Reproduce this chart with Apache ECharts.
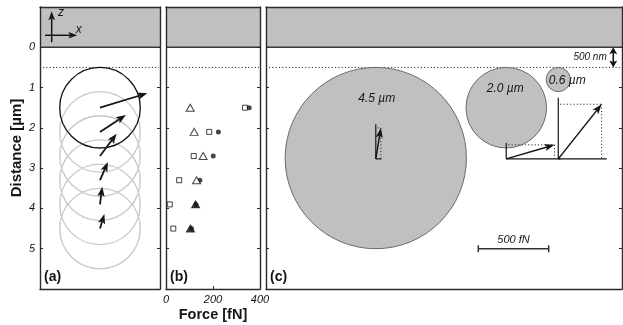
<!DOCTYPE html>
<html><head><meta charset="utf-8">
<script src="https://cdn.jsdelivr.net/npm/echarts@6/dist/echarts.min.js"></script>
<style>html,body{margin:0;padding:0;background:#fff}#c{width:623px;height:325px}</style>
</head><body><div id="c"></div>
<script>
// ---------------- data ----------------
const depthTicks = [0, 1, 2, 3, 4, 5];              // µm
const forceTicks = [0, 200, 400];                   // fN
const beadDepthsA = [1.5, 2.1, 2.7, 3.3, 3.9, 4.5];  // centre depth of the 2.0 µm bead, µm
const forceXA = [336, 184, 118, 56, 16, 31];         // squares: lateral force, fN
const forceZA = [103, 120, 158, 130, 126, 104];      // triangles: axial force, fN
const forceTotalA = [354, 223, 201, 144, 127, 108];  // dots: total force, fN
const beadDiameterA = 2.0;                           // µm
const beadDiametersC = [4.5, 2.0, 0.6];              // µm
const beadLabelsC = ['4.5 µm', '2.0 µm', '0.6 µm'];
const beadCentreXC = [2.725, 5.964, 7.255];          // µm along panel (c)
const beadCentreZC = [2.75, 1.5, 0.8];               // µm depth
const beadForceXC = [36, 343, 308];                  // fN
const beadForceZC = [220, 100, 388];                 // fN
const surfaceGap = 0.5;                              // µm (500 nm)
const scaleBarForce = 500;                           // fN
const panelLabels = ['(a)', '(b)', '(c)'];

// ---------------- layout / style ----------------
const FONT = "'Liberation Sans', Arial, Helvetica, sans-serif";
const INK = '#151515';
const FRAME = '#2b2b2b';
const GT = 7, GH = 282, DMIN = -1, DMAX = 6;
const pxPerUm = GH / (DMAX - DMIN);
const boxes = [{left: 40, width: 120}, {left: 166, width: 94}, {left: 266, width: 356}];
const xMaxA = boxes[0].width / pxPerUm;
const xMaxC = boxes[2].width / pxPerUm;
const umPerFn = 70.4 / pxPerUm / scaleBarForce;
const frameDepthC = 2.77;
const beadLabelOffsetPx = [[1, -59], [-1, -19.5], [9, 1]];
const scaleBarPos = [5.27, 5.0];
const gapArrowX = 8.62;

function arrow(p0, p1, o) {
  const dx = p1[0] - p0[0], dy = p1[1] - p0[1];
  const L = Math.hypot(dx, dy) || 1;
  const ux = dx / L, uy = dy / L, nx = -uy, ny = ux;
  const hl = o.head, hw = o.half, nt = hl * 0.78;
  const base = [p1[0] - ux * hl, p1[1] - uy * hl];
  const nb = [p1[0] - ux * nt, p1[1] - uy * nt];
  const els = [];
  if (!o.noLine) els.push({type: 'line', shape: {x1: p0[0], y1: p0[1], x2: nb[0], y2: nb[1]},
    style: {stroke: o.color, lineWidth: o.width, lineCap: 'butt'}});
  els.push({type: 'polygon', shape: {points: [p1, [base[0] + nx * hw, base[1] + ny * hw], nb, [base[0] - nx * hw, base[1] - ny * hw]]},
    style: {fill: o.color}});
  return els;
}
const dotted = {stroke: '#222', lineWidth: 1, lineDash: [1.1, 2.2]};

const lineStyle = {color: FRAME, width: 1.4};
function xAx(gi, pos, max, opts) {
  return Object.assign({
    gridIndex: gi, type: 'value', position: pos, min: 0, max: max,
    axisLine: {show: true, onZero: false, lineStyle},
    axisTick: {show: false}, axisLabel: {show: false}, splitLine: {show: false}, z: 5
  }, opts || {});
}
function yAx(gi, pos, labels) {
  return {
    gridIndex: gi, type: 'value', position: pos, min: DMIN, max: DMAX, interval: 1, inverse: true,
    axisLine: {show: true, onZero: false, lineStyle},
    axisTick: {show: true, inside: true, length: 3, lineStyle: {color: FRAME, width: 1}},
    axisLabel: {show: labels, margin: 5, fontStyle: 'italic', fontSize: 11, fontFamily: FONT, color: INK,
      formatter: v => depthTicks.indexOf(v) >= 0 ? String(v) : ''},
    splitLine: {show: false}, z: 5
  };
}

const xAxis = [
  xAx(0, 'bottom', xMaxA),
  xAx(1, 'bottom', forceTicks[forceTicks.length - 1], {
    min: forceTicks[0], interval: forceTicks[1] - forceTicks[0],
    axisTick: {show: true, inside: true, length: 3, lineStyle: {color: FRAME, width: 1}},
    axisLabel: {show: true, margin: 5, fontStyle: 'italic', fontSize: 11, fontFamily: FONT, color: INK,
      showMinLabel: true, showMaxLabel: true}
  }),
  xAx(2, 'bottom', xMaxC),
  xAx(0, 'top', xMaxA), xAx(1, 'top', 400), xAx(2, 'top', xMaxC)
];
const yAxis = [yAx(0, 'left', true), yAx(1, 'left', false), yAx(2, 'left', false),
               yAx(0, 'right', false), yAx(1, 'right', false), yAx(2, 'right', false)];

// surface (gray half-space), 500 nm dotted line, panel letter
function renderSurface(params, api) {
  const cs = params.coordSys;
  const gi = api.value(2);
  const y0 = api.coord([0, 0])[1];
  const yd = api.coord([0, surfaceGap])[1];
  const ch = [
    {type: 'rect', shape: {x: cs.x, y: cs.y, width: cs.width, height: y0 - cs.y}, style: {fill: '#c0c0c0'}},
    {type: 'line', shape: {x1: cs.x, y1: y0, x2: cs.x + cs.width, y2: y0}, style: {stroke: '#3a3a3a', lineWidth: 1.6}},
    {type: 'line', shape: {x1: cs.x + 3, y1: yd, x2: cs.x + cs.width - 1, y2: yd}, style: dotted},
    {type: 'text', x: cs.x + 4, y: cs.y + cs.height - 12,
      style: {text: panelLabels[gi], fill: INK, font: 'bold 14px ' + FONT, align: 'left', verticalAlign: 'middle'}}
  ];
  if (gi === 0) {
    const c = (x, z) => api.coord([x, z]);
    ch.push(...arrow(c(0.29, -0.124), c(0.29, -0.893), {color: INK, width: 1.5, head: 9, half: 3.3}));
    ch.push(...arrow(c(0.124, -0.298), c(0.926, -0.298), {color: INK, width: 1.5, head: 9, half: 3.3}));
    const pz = c(0.52, -0.85), px = c(0.96, -0.45);
    ch.push({type: 'text', x: pz[0], y: pz[1], style: {text: 'z', fill: INK, font: 'italic 12px ' + FONT, align: 'center', verticalAlign: 'middle'}});
    ch.push({type: 'text', x: px[0], y: px[1], style: {text: 'x', fill: INK, font: 'italic 12px ' + FONT, align: 'center', verticalAlign: 'middle'}});
  }
  return {type: 'group', children: ch};
}

const series = [];
[0, 1, 2].forEach(gi => series.push({
  type: 'custom', xAxisIndex: gi, yAxisIndex: gi, z: 1, silent: true,
  data: [[0, 0, gi]], renderItem: renderSurface
}));

// panel (a): bead outlines
series.push({
  type: 'custom', xAxisIndex: 0, yAxisIndex: 0, z: 2, silent: true,
  data: beadDepthsA.map((d, i) => [xMaxA / 2, d, i]),
  renderItem(params, api) {
    const c = api.coord([api.value(0), api.value(1)]);
    const r = api.size([0, beadDiameterA / 2])[1];
    const first = api.value(2) === 0;
    return {type: 'circle', z2: first ? 10 : 1, shape: {cx: c[0], cy: c[1], r: r},
      style: {fill: 'none', stroke: first ? '#111' : '#c8c8c8', lineWidth: 1.3}};
  }
});
// panel (a): force arrows
series.push({
  type: 'custom', xAxisIndex: 0, yAxisIndex: 0, z: 3, silent: true,
  data: beadDepthsA.map((d, i) => [xMaxA / 2, d, forceXA[i], forceZA[i]]),
  renderItem(params, api) {
    const x = api.value(0), d = api.value(1);
    const p0 = api.coord([x, d]);
    const p1 = api.coord([x + api.value(2) * umPerFn, d - api.value(3) * umPerFn]);
    return {type: 'group', children: arrow(p0, p1, {color: INK, width: 1.8, head: 10, half: 3.7})};
  }
});

// panel (b): force components
series.push({
  type: 'scatter', xAxisIndex: 1, yAxisIndex: 1, z: 3, silent: true, symbol: 'rect', symbolSize: 5,
  itemStyle: {color: '#fff', borderColor: INK, borderWidth: 1},
  data: beadDepthsA.map((d, i) => [forceXA[i], d])
});
series.push({
  type: 'scatter', xAxisIndex: 1, yAxisIndex: 1, z: 3, silent: true, symbol: 'circle', symbolSize: 5,
  itemStyle: {color: INK},
  data: beadDepthsA.map((d, i) => [forceTotalA[i], d])
});
series.push({
  type: 'scatter', xAxisIndex: 1, yAxisIndex: 1, z: 4, silent: true, symbol: 'triangle', symbolSize: [8, 7],
  data: beadDepthsA.map((d, i) => ({
    value: [forceZA[i], d],
    itemStyle: {color: Math.abs(forceTotalA[i] - forceZA[i]) < 8 ? INK : '#fff', borderColor: INK, borderWidth: 1}
  }))
});

// panel (c): beads
series.push({
  type: 'custom', xAxisIndex: 2, yAxisIndex: 2, z: 2, silent: true,
  data: beadDiametersC.map((D, i) => [beadCentreXC[i], beadCentreZC[i], D, i]),
  renderItem(params, api) {
    const i = api.value(3);
    const c = api.coord([api.value(0), api.value(1)]);
    const r = api.size([0, api.value(2) / 2])[1];
    const off = beadLabelOffsetPx[i];
    return {type: 'group', children: [
      {type: 'circle', shape: {cx: c[0], cy: c[1], r: r}, style: {fill: '#c0c0c0', stroke: '#6a6a6a', lineWidth: 1}},
      {type: 'text', x: c[0] + off[0], y: c[1] + off[1],
        style: {text: beadLabelsC[i], fill: INK, font: 'italic 12px ' + FONT, align: 'center', verticalAlign: 'middle'}}
    ]};
  }
});
// panel (c): force vectors with component frames
series.push({
  type: 'custom', xAxisIndex: 2, yAxisIndex: 2, z: 3, silent: true,
  data: beadDiametersC.map((D, i) => [beadCentreXC[i], frameDepthC, beadForceXC[i], beadForceZC[i]]),
  renderItem(params, api) {
    const x = api.value(0), d = api.value(1);
    const o = api.coord([x, d]);
    const t = api.coord([x + api.value(2) * umPerFn, d - api.value(3) * umPerFn]);
    const dx = t[0] - o[0], dy = o[1] - t[1];
    const ch = [
      {type: 'line', shape: {x1: o[0], y1: o[1], x2: o[0], y2: o[1] - dy * 1.12}, style: {stroke: INK, lineWidth: 1.2}},
      {type: 'line', shape: {x1: o[0], y1: o[1], x2: o[0] + dx * 1.12, y2: o[1]}, style: {stroke: INK, lineWidth: 1.2}},
      {type: 'line', shape: {x1: o[0] + 2, y1: t[1], x2: t[0], y2: t[1]}, style: dotted},
      {type: 'line', shape: {x1: t[0], y1: t[1], x2: t[0], y2: o[1]}, style: dotted}
    ];
    ch.push(...arrow(o, t, {color: INK, width: 1.5, head: 10, half: 3.6}));
    return {type: 'group', children: ch};
  }
});
// panel (c): scale bar and 500 nm gap marker
series.push({
  type: 'custom', xAxisIndex: 2, yAxisIndex: 2, z: 3, silent: true,
  data: [[scaleBarPos[0], scaleBarPos[1], scaleBarForce]],
  renderItem(params, api) {
    const x = api.value(0), z = api.value(1);
    const p0 = api.coord([x, z]), p1 = api.coord([x + api.value(2) * umPerFn, z]);
    const s = {stroke: '#333', lineWidth: 1.5};
    return {type: 'group', children: [
      {type: 'line', shape: {x1: p0[0], y1: p0[1], x2: p1[0], y2: p1[1]}, style: s},
      {type: 'line', shape: {x1: p0[0], y1: p0[1] - 3.5, x2: p0[0], y2: p0[1] + 3.5}, style: s},
      {type: 'line', shape: {x1: p1[0], y1: p1[1] - 3.5, x2: p1[0], y2: p1[1] + 3.5}, style: s},
      {type: 'text', x: (p0[0] + p1[0]) / 2, y: p0[1] - 9,
        style: {text: api.value(2) + ' fN', fill: INK, font: 'italic 11px ' + FONT, align: 'center', verticalAlign: 'middle'}}
    ]};
  }
});
series.push({
  type: 'custom', xAxisIndex: 2, yAxisIndex: 2, z: 3, silent: true,
  data: [[gapArrowX, 0, surfaceGap]],
  renderItem(params, api) {
    const x = api.value(0);
    const p0 = api.coord([x, api.value(1)]), p1 = api.coord([x, api.value(2)]);
    const mid = [(p0[0] + p1[0]) / 2, (p0[1] + p1[1]) / 2];
    const ch = [{type: 'line', shape: {x1: p0[0], y1: p0[1] + 4, x2: p1[0], y2: p1[1] - 4}, style: {stroke: INK, lineWidth: 1.6}}];
    ch.push(...arrow(mid, p0, {color: INK, width: 1.5, head: 7, half: 4, noLine: true}));
    ch.push(...arrow(mid, p1, {color: INK, width: 1.5, head: 7, half: 4, noLine: true}));
    ch.push({type: 'text', x: p0[0] - 6.5, y: mid[1],
      style: {text: Math.round(api.value(2) * 1000) + ' nm', fill: INK, font: 'italic 10px ' + FONT, align: 'right', verticalAlign: 'middle'}});
    return {type: 'group', children: ch};
  }
});

const chart = echarts.init(document.getElementById('c'));
chart.setOption({
  animation: false,
  backgroundColor: '#fff',
  grid: boxes.map(b => ({left: b.left, top: GT, width: b.width, height: GH, containLabel: false})),
  xAxis, yAxis, series,
  graphic: [
    {type: 'text', x: 17, y: 148, rotation: Math.PI / 2,
      style: {text: 'Distance [µm]', fill: INK, font: 'bold 15px ' + FONT, align: 'center', verticalAlign: 'middle'}},
    {type: 'text', x: 213, y: 315,
      style: {text: 'Force [fN]', fill: INK, font: 'bold 14.5px ' + FONT, align: 'center', verticalAlign: 'middle'}}
  ]
});
</script></body></html>
